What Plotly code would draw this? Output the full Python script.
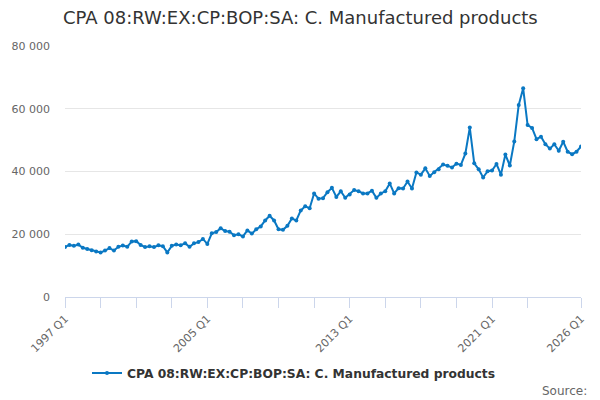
import plotly.graph_objects as go

# quarterly values, 1997 Q1 .. 2026 Q1
quarters = [f"{y} Q{q}" for y in range(1997, 2027) for q in range(1, 5)][:117]
values = [
    15900, 16600, 16300, 16700, 15700, 15300, 14900, 14500,
    14200, 14800, 15600, 14800, 16000, 16400, 16000, 17700,
    17800, 16600, 15900, 16200, 15900, 16500, 16200, 14200,
    16300, 16700, 16500, 17100, 16000, 17100, 17500, 18500,
    16900, 20300, 20700, 21900, 21000, 20800, 19700, 20000,
    19300, 21200, 20200, 21600, 22500, 24400, 25900, 24400,
    21600, 21400, 22700, 25000, 24400, 27600, 28900, 28300,
    33000, 31300, 31500, 33400, 34800, 31900, 33700, 31600,
    32700, 34100, 33700, 33000, 33000, 33900, 31600, 33000,
    33700, 36200, 33000, 34700, 34600, 36800, 34600, 39700,
    39000, 41000, 38600, 39800, 40700, 42200, 41800, 41300,
    42500, 42100, 45700, 54000, 42600, 40700, 38100, 40100,
    40300, 42400, 39000, 45400, 41900, 49600, 61200, 66500,
    54800, 53900, 50300, 51100, 48700, 47300, 48700, 46600,
    49500, 46300, 45500, 46300, 48000,
]
series_name = "CPA 08:RW:EX:CP:BOP:SA: C. Manufactured products"

tick_quarters = quarters[0:105:8] + [quarters[-1]]
labelled = {"1997 Q1", "2005 Q1", "2013 Q1", "2021 Q1", "2026 Q1"}
tick_text = [q if q in labelled else "" for q in tick_quarters]

fig = go.Figure()
fig.add_trace(go.Scatter(
    x=quarters,
    y=values,
    mode='lines+markers',
    line=dict(color='#0a78c3', width=2),
    marker=dict(color='#0a78c3', size=4),
    name=series_name,
))

fig.update_layout(
    width=600,
    height=400,
    margin=dict(l=65, r=19, t=46, b=103),
    paper_bgcolor='white',
    plot_bgcolor='white',
    separators='. ',
    font=dict(family='DejaVu Sans', color='#666666'),
    title=dict(
        text='CPA 08:RW:EX:CP:BOP:SA: C. Manufactured products',
        x=63 / 600, xref='container', xanchor='left',
        y=1 - 18 / 400, yref='container', yanchor='middle',
        pad=dict(l=0, r=0, t=0, b=0),
        font=dict(size=18, color='#333333', family='DejaVu Sans'),
    ),
    showlegend=True,
    legend=dict(
        orientation='h',
        x=0.49, xref='container', xanchor='center',
        y=1 - 373 / 400, yref='container', yanchor='middle',
        font=dict(size=12.3, color='#333333', family='DejaVu Sans, sans-serif', weight='bold'),
    ),
    xaxis=dict(
        type='category',
        range=[0, 116],
        automargin=False,
        tickmode='array',
        tickvals=tick_quarters,
        ticktext=tick_text,
        tickangle=-45,
        ticks='outside',
        ticklen=10,
        tickcolor='#ccd6eb',
        showline=True,
        linecolor='#ccd6eb',
        showgrid=False,
        zeroline=False,
        tickfont=dict(size=11, color='#666666'),
    ),
    yaxis=dict(
        range=[0, 80000],
        automargin=False,
        tickvals=[0, 20000, 40000, 60000, 80000],
        tickformat=',d',
        gridcolor='#e6e6e6',
        zeroline=False,
        showline=False,
        ticklabelstandoff=14,
        tickfont=dict(size=11, color='#666666'),
    ),
)

fig.add_annotation(
    text='Source:',
    xref='paper', yref='paper',
    x=(589 - 65) / 516, y=(297 - 391) / 251,
    xanchor='right', yanchor='middle',
    showarrow=False,
    font=dict(size=12, color='#666666'),
)

# drop the browser's default body margin so the figure sits at 0,0
fig.write_html(
    "out.html",
    config={'displayModeBar': False},
    post_script="document.body.style.margin='0';",
)
